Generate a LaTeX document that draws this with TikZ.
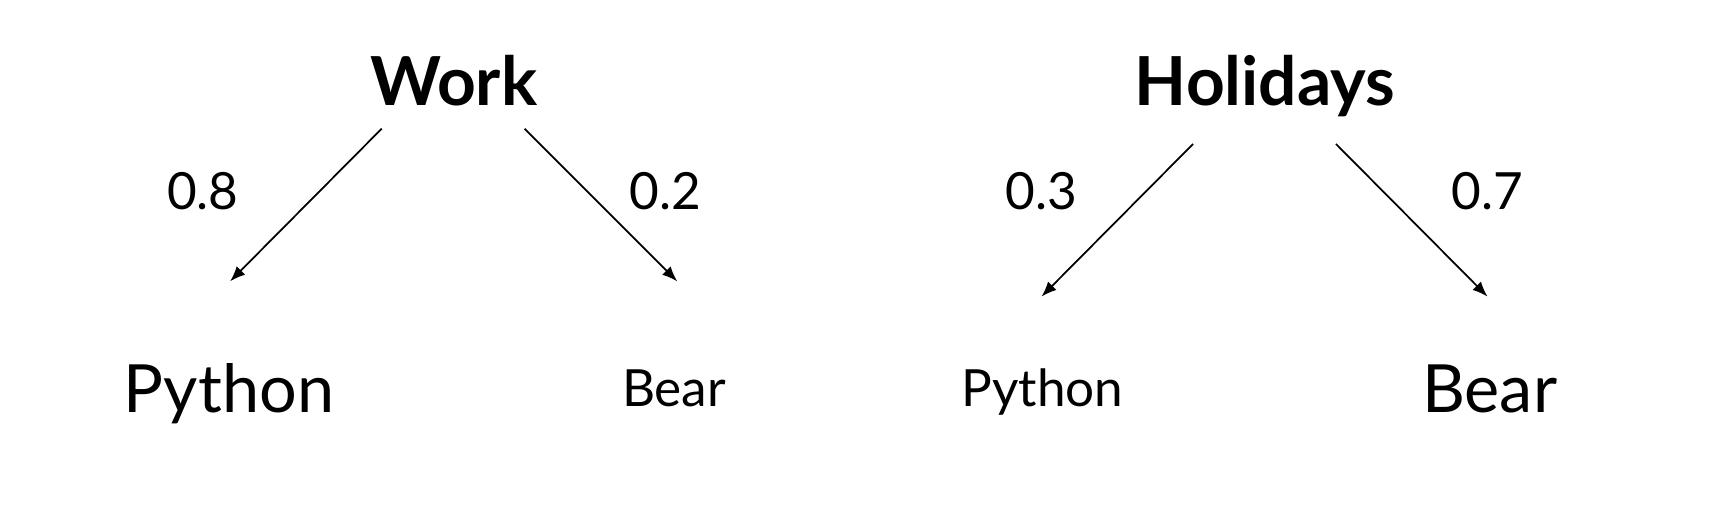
\documentclass[tikz,border=0pt]{standalone}
\usepackage{fontspec}
\setmainfont{Lato}
\usetikzlibrary{arrows.meta}

\tikzset{
  head/.style={font=\fontsize{31}{36}\selectfont\bfseries, anchor=base},
  big/.style={font=\fontsize{30.5}{36}\selectfont, anchor=base},
  small/.style={font=\fontsize{23.5}{28}\selectfont, anchor=base},
  prob/.style={font=\fontsize{23.5}{28}\selectfont},
  arr/.style={-{Latex[length=7pt,width=5.5pt]}, line width=0.8pt}
}

\begin{document}
\begin{tikzpicture}[x=0.5pt,y=-0.5pt]
		
		\useasboundingbox (0,0) rectangle (1568,480.5);
		
		% Work
		\node[head] (work) at (416,97) {Work};
		\node[big] (wpython) at (210,378) {Python};
		\node[small] (wbear) at (618,373) {Bear};
		\coordinate (w1) at (350,118);
		\coordinate (w2) at (481,118);
		\coordinate (wp) at (211,258);
		\coordinate (wb) at (621,258);
		\draw[arr] (w1) -- (wp);
		\draw[arr] (w2) -- (wb);
		\node[prob] (p08) at (186,175) {0.8};
		\node[prob] (p02) at (610,175) {0.2};
		
		% Holidays
		\node[head] (hol) at (1160,97) {Holidays};
		\node[small] (hpython) at (956,373) {Python};
		\node[big] (hbear) at (1366,378) {Bear};
		\coordinate (h1) at (1094,132);
		\coordinate (h2) at (1225,132);
		\coordinate (hp) at (955,272);
		\coordinate (hb) at (1364,272);
		\draw[arr] (h1) -- (hp);
		\draw[arr] (h2) -- (hb);
		\node[prob] (p03) at (955,175) {0.3};
		\node[prob] (p07) at (1364,175) {0.7};
	\end{tikzpicture}
\end{document}
